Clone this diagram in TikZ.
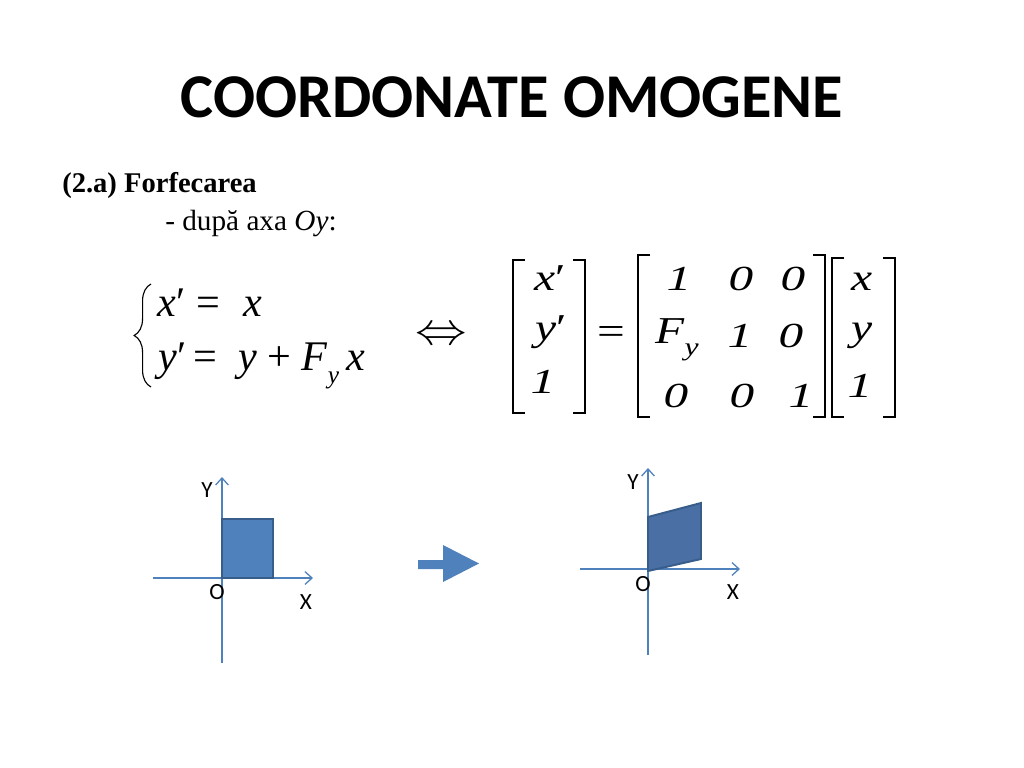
\documentclass[tikz,border=0pt]{standalone}
\usepackage{graphicx}
\usepackage{fontspec}
\setmainfont{Liberation Serif}
\newfontfamily\calibrifont{Carlito}
\usetikzlibrary{positioning, arrows.meta, decorations.pathreplacing}
\definecolor{axisblue}{HTML}{4F81BD}
\definecolor{boxfill}{HTML}{4F81BD}
\definecolor{boxline}{HTML}{385D8A}
\definecolor{shearfill}{HTML}{4A6FA5}
\tikzset{>={Straight Barb[length=5pt,width=9pt]}}
\tikzset{
    every node/.style={inner sep=0pt},
    titletext/.style={font=\calibrifont\bfseries\fontsize{44.3}{48}\selectfont},
    sectext/.style={font=\bfseries\fontsize{20.3}{24}\selectfont},
    bodytext/.style={font=\fontsize{20.8}{24}\selectfont},
    eqtext/.style={font=\fontsize{30}{32}\selectfont},
    matvar/.style={font=\fontsize{27}{30}\selectfont, anchor=base},
    matnum/.style={font=\fontsize{25}{27}\selectfont, anchor=base},
    axlabel/.style={font=\calibrifont\fontsize{16.5}{18}\selectfont},
    axis/.style={draw=axisblue, line width=0.9pt, ->},
    brak/.style={line width=0.9pt},
    square/.style={fill=boxfill, draw=boxline, line width=1.4pt},
    sheared/.style={fill=shearfill, draw=boxline, line width=1.4pt}
}
% brackets round a column: left x, right x, top y, bottom y
\newcommand{\matbrackets}[4]{%
    \draw[brak] (#1+12,#3) -- (#1,#3) -- (#1,#4) -- (#1+12,#4);
    \draw[brak] (#2-12,#3) -- (#2,#3) -- (#2,#4) -- (#2-12,#4);}
\newcommand{\sub}[1]{\raisebox{-0.32em}{\fontsize{18}{18}\selectfont\textit{#1}}}
\newcommand{\wide}[1]{\scalebox{1.25}[1]{#1}}
\newcommand{\widenum}[1]{\scalebox{1.4}[1]{\textit{#1}}}

\begin{document}
\begin{tikzpicture}[x=0.025cm,y=-0.025cm]
    \useasboundingbox[fill=white] (0,0) rectangle (1024,768);
    \node[titletext,anchor=base] (title) at (512,118) {COORDONATE OMOGENE};
    \node[sectext,anchor=base west] (sec) at (62,192) {(2.a) Forfecarea};
    \node[bodytext,anchor=base west] (axa) at (165,230) {- după axa \textit{Oy}:};
    % system
    \draw[decorate,decoration={brace,amplitude=12pt},line width=0.8pt] (151,387) -- (151,284);
    \node[eqtext,anchor=base west] (eqa) at (157,316) {\textit{x}′\;= \;\textit{x}};
    \node[eqtext,anchor=base west] (eqb) at (158,370) {\textit{y}′\,= \ \textit{y} + \textit{F}\sub{y}\,\textit{x}};
    \node (iff) at (441,336) {\scalebox{1.47}[1.3]{\Huge$\Leftrightarrow$}};
    % matrix form
    \matbrackets{513}{585}{260}{413}
    \node[matvar] (v1) at (550,290) {\wide{\textit{x}′}};
    \node[matvar] (v2) at (551,340) {\wide{\textit{y}′}};
    \node[matnum] (v3) at (543,393) {\widenum{1}};
    \node[font=\fontsize{28}{28}\selectfont] (eqsign) at (611,335) {\wide{=}};
    \matbrackets{638}{825}{255}{417}
    \node[matnum] (m11) at (679,290) {\widenum{1}};
    \node[matnum] (m12) at (741,290) {\widenum{0}};
    \node[matnum] (m13) at (793,290) {\widenum{0}};
    \node[matvar] (m21) at (677,343) {\wide{\textit{F}\sub{y}}};
    \node[matnum] (m22) at (740,347) {\widenum{1}};
    \node[matnum] (m23) at (791,347) {\widenum{0}};
    \node[matnum] (m31) at (676,407) {\widenum{0}};
    \node[matnum] (m32) at (742,407) {\widenum{0}};
    \node[matnum] (m33) at (801,407) {\widenum{1}};
    \matbrackets{832}{895}{258}{417}
    \node[matvar] (w1) at (862,290) {\wide{\textit{x}}};
    \node[matvar] (w2) at (862,340) {\wide{\textit{y}}};
    \node[matnum] (w3) at (860,397) {\widenum{1}};
    % before
    \coordinate (O1) at (222,578);
    \draw[axis] (153,578) -- (313,578);
    \draw[axis] (222,663) -- (222,477);
    \filldraw[square] (O1) rectangle (273,519);
    \node[axlabel] (Y1) at (207,490) {Y};
    \node[axlabel] (o1) at (217,592) {O};
    \node[axlabel] (X1) at (306,602) {X};
    % block arrow
    \fill[axisblue] (418,560) -- (443,560) -- (443,545) -- (479,563.5) -- (443,582) -- (443,569) -- (418,569) -- cycle;
    % after
    \coordinate (O2) at (648,571);
    \draw[axis] (580,569) -- (740,569);
    \draw[axis] (648,655) -- (648,468);
    \filldraw[sheared] (O2) -- (701,559) -- (701,503) -- (648,517) -- cycle;
    \node[axlabel] (Y2) at (633,482) {Y};
    \node[axlabel] (o2) at (643,584) {O};
    \node[axlabel] (X2) at (733,592) {X};
\end{tikzpicture}
\end{document}
